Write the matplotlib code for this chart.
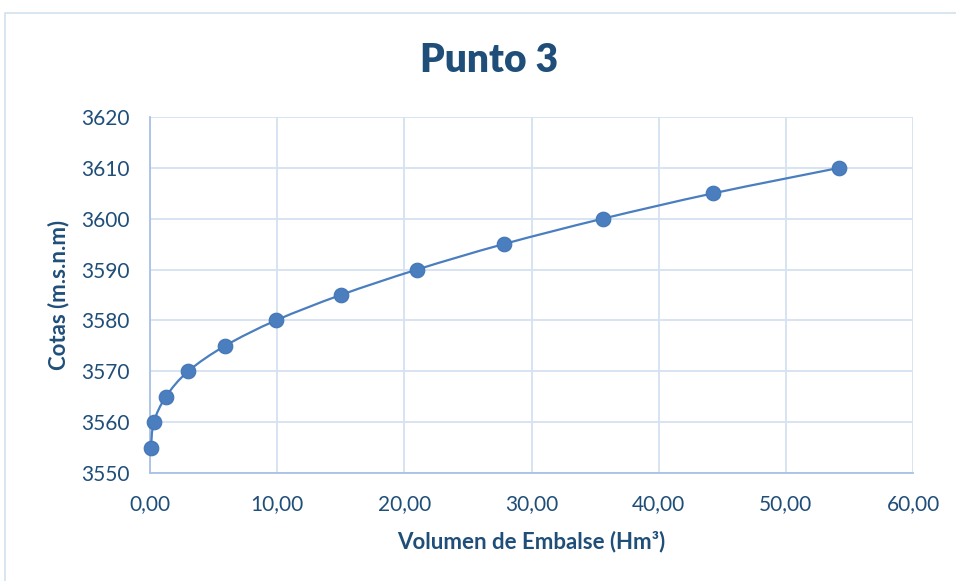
import numpy as np
import matplotlib.pyplot as plt
from matplotlib.path import Path
from matplotlib.patches import PathPatch, Rectangle
from matplotlib.ticker import FuncFormatter, MultipleLocator

plt.rcParams['font.family'] = ['Lato', 'DejaVu Sans']

# Volumen de embalse (Hm3) vs cota (m.s.n.m)
volumen = [0.08, 0.30, 1.25, 3.00, 5.90, 9.90, 15.00, 21.00, 27.80, 35.60, 44.30, 54.20]
cotas = [3555, 3560, 3565, 3570, 3575, 3580, 3585, 3590, 3595, 3600, 3605, 3610]

TEXT = '#1F4E79'
SERIES = '#4A7EBF'
GRID = '#D6E2F2'
SPINE = '#A8C2E6'


def smooth_path(xs, ys, tension=1 / 6):
    """Catmull-Rom style cubic Bezier through the points (like a smoothed Excel line)."""
    pts = np.column_stack([xs, ys]).astype(float)
    verts = [pts[0]]
    codes = [Path.MOVETO]
    n = len(pts)
    for i in range(n - 1):
        p0 = pts[max(i - 1, 0)]
        p1 = pts[i]
        p2 = pts[i + 1]
        p3 = pts[min(i + 2, n - 1)]
        c1 = p1 + (p2 - p0) * tension
        c2 = p2 - (p3 - p1) * tension
        verts += [c1, c2, p2]
        codes += [Path.CURVE4] * 3
    return Path(verts, codes)


fig = plt.figure(figsize=(9.56, 5.81), dpi=100)
fig.patches.append(Rectangle((5 / 956, -0.05), 1.1, 0.05 + (581 - 13) / 581,
                             transform=fig.transFigure, fill=False,
                             edgecolor='#D3E0F0', linewidth=1.2))

ax = fig.add_axes([150 / 956, 108 / 581, 763 / 956, 356 / 581])

ax.add_patch(PathPatch(smooth_path(volumen, cotas), facecolor='none',
                       edgecolor=SERIES, linewidth=1.6, zorder=3, clip_on=False))
ax.plot(volumen, cotas, linestyle='none', marker='o', markersize=10.5,
        color=SERIES, markeredgecolor='#4375B4', markeredgewidth=0.8,
        zorder=4, clip_on=False)

ax.set_xlim(0, 60)
ax.set_ylim(3550, 3620)
ax.xaxis.set_major_locator(MultipleLocator(10))
ax.yaxis.set_major_locator(MultipleLocator(10))
ax.xaxis.set_major_formatter(FuncFormatter(lambda v, p: f'{v:.2f}'.replace('.', ',')))
ax.yaxis.set_major_formatter(FuncFormatter(lambda v, p: f'{v:.0f}'))

ax.grid(True, color=GRID, linewidth=1.3)
ax.set_axisbelow(True)
for side in ['top', 'right']:
    ax.spines[side].set_visible(False)
for side in ['left', 'bottom']:
    ax.spines[side].set_color(SPINE)
    ax.spines[side].set_linewidth(1.3)
ax.tick_params(length=0, labelsize=15, labelcolor=TEXT)
ax.tick_params(axis='x', pad=15)
ax.tick_params(axis='y', pad=15)

ax.set_xlabel('Volumen de Embalse (Hm³)', fontsize=16, fontweight='bold',
              color=TEXT, labelpad=12)
ax.set_ylabel('Cotas (m.s.n.m)', fontsize=16, fontweight='bold',
              color=TEXT, labelpad=8)
fig.text(489 / 956, 1 - 60 / 581, 'Punto 3', ha='center', va='center',
         fontsize=28, fontweight='heavy', color=TEXT)

fig.savefig('out.png', dpi=100)
